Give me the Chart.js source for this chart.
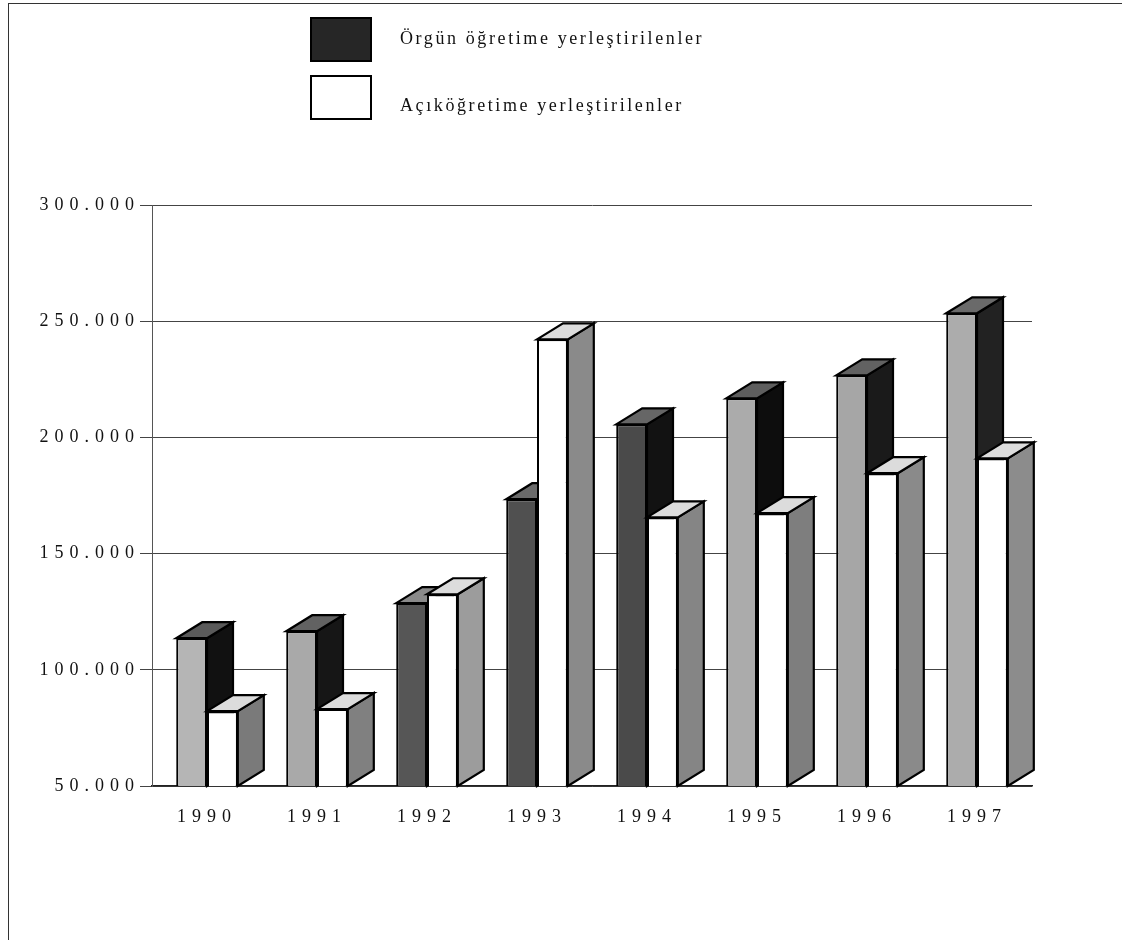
<!DOCTYPE html>
<html>
<head>
<meta charset="utf-8">
<script src="https://cdn.jsdelivr.net/npm/chart.js@4/dist/chart.umd.min.js"></script>
<style>
  body { margin: 0; background: #fff; }
  #wrap { position: relative; width: 1122px; height: 940px; overflow: hidden; }
  #frame { position: absolute; left: 8px; top: 3px; right: 0; bottom: 0;
           border-top: 1px solid #333; border-left: 1px solid #333; }
  .lg-box { position: absolute; left: 310px; width: 58px; height: 41px; border: 2px solid #000; }
  .lg-text { position: absolute; left: 400px; font: 18px "Liberation Serif", serif;
             letter-spacing: 2.6px; color: #111; }
</style>
</head>
<body>
<div id="wrap">
  <div id="frame"></div>
  <canvas id="myChart" width="1122" height="940"></canvas>
  <div class="lg-box" style="top:17px; background:#262626;"></div>
  <div class="lg-text" style="top:28px;">Örgün öğretime yerleştirilenler</div>
  <div class="lg-box" style="top:75px; background:#fff;"></div>
  <div class="lg-text" style="top:95px;">Açıköğretime yerleştirilenler</div>
</div>
<script>
const years = ['1990', '1991', '1992', '1993', '1994', '1995', '1996', '1997'];
const orgun = [113600, 116600, 128700, 173400, 205600, 216800, 226700, 253400];
const acik = [82200, 83100, 132500, 242200, 165600, 167400, 184600, 191000];
const yTicks = [50000, 100000, 150000, 200000, 250000, 300000];

// shading of the scanned bars (front, side, top)
const orgunFront = ['#b5b5b5', '#a9a9a9', '#565656', '#505050', '#4a4a4a', '#ababab', '#a6a6a6', '#acacac'];
const orgunSide = ['#111', '#161616', '#3a3a3a', '#333', '#121212', '#0d0d0d', '#1a1a1a', '#222'];
const orgunTop = ['#5a5a5a', '#626262', '#8a8a8a', '#6a6a6a', '#666', '#5e5e5e', '#626262', '#6a6a6a'];
const acikSide = ['#7a7a7a', '#808080', '#9c9c9c', '#8a8a8a', '#858585', '#7e7e7e', '#8a8a8a', '#8c8c8c'];

const DX = 26, DY = -16;

function face(ctx, pts, fill) {
    ctx.beginPath();
    ctx.moveTo(pts[0][0], pts[0][1]);
    for (let i = 1; i < pts.length; i++) ctx.lineTo(pts[i][0], pts[i][1]);
    ctx.closePath();
    ctx.fillStyle = fill;
    ctx.fill();
    ctx.lineWidth = 2.2;
    ctx.strokeStyle = '#000';
    ctx.stroke();
}

function drawDepth(chart, index, sides, tops) {
    const ctx = chart.ctx;
    const bottom = chart.scales.y.getPixelForValue(chart.scales.y.min);
    ctx.save();
    chart.getDatasetMeta(index).data.forEach(function (el, i) {
        const x0 = el.x - el.width / 2, x1 = el.x + el.width / 2;
        face(ctx, [[x1, el.y], [x1 + DX, el.y + DY], [x1 + DX, bottom + DY], [x1, bottom]], sides[i]);
        face(ctx, [[x0, el.y], [x0 + DX, el.y + DY], [x1 + DX, el.y + DY], [x1, el.y]], tops[i]);
    });
    ctx.restore();
}

const depthPlugin = {
    id: 'depth',
    beforeDraw(chart) {
        chart.ctx.letterSpacing = '6px';
    },
    beforeDatasetsDraw(chart) {
        drawDepth(chart, 0, orgunSide, orgunTop);
    },
    afterDatasetsDraw(chart) {
        drawDepth(chart, 1, acikSide, acik.map(() => '#dcdcdc'));
    }
};

const ctx = document.querySelector('#myChart');
const myChart = new Chart(ctx, {
    type: 'bar',
    data: {
        labels: years,
        datasets: [
            {
                label: 'Örgün öğretime yerleştirilenler',
                data: orgun,
                backgroundColor: orgunFront,
                borderColor: '#000',
                borderWidth: 2,
                barPercentage: 1,
                categoryPercentage: 0.56
            },
            {
                label: 'Açıköğretime yerleştirilenler',
                data: acik,
                backgroundColor: '#fff',
                borderColor: '#000',
                borderWidth: 2,
                barPercentage: 1,
                categoryPercentage: 0.56
            }
        ]
    },
    options: {
        responsive: false,
        animation: false,
        layout: {
            padding: { top: 205, right: 90, bottom: 94, left: 0 }
        },
        plugins: {
            legend: { display: false },
            tooltip: { enabled: false }
        },
        scales: {
            x: {
                grid: { display: false },
                border: { display: true, color: '#222', width: 1.5 },
                ticks: {
                    color: '#111',
                    padding: 12,
                    font: { family: 'Liberation Serif', size: 18 }
                },
                afterFit: function (scale) { scale.height = 60; }
            },
            y: {
                min: 50000,
                max: 300000,
                afterBuildTicks: function (scale) {
                    scale.ticks = yTicks.map(v => ({ value: v }));
                },
                ticks: {
                    color: '#111',
                    padding: 0,
                    font: { family: 'Liberation Serif', size: 18 },
                    callback: function (value) {
                        return String(value).replace(/\B(?=(\d{3})+(?!\d))/g, '.');
                    }
                },
                grid: {
                    color: '#444',
                    lineWidth: 1,
                    tickLength: 12
                },
                border: { color: '#555', width: 1 },
                afterFit: function (scale) { scale.width = 152; }
            }
        }
    },
    plugins: [depthPlugin]
});
</script>
</body>
</html>
